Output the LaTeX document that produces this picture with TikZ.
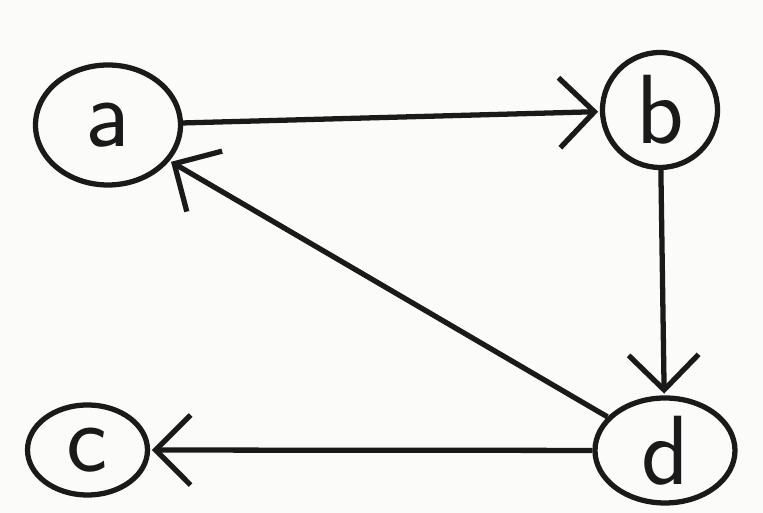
\documentclass[tikz,border=0pt]{standalone}
\usetikzlibrary{shapes.geometric,arrows.meta,positioning}
\usepackage{xcolor}
\definecolor{ink}{HTML}{1A1A1A}
\definecolor{paper}{HTML}{FBFBF9}
\tikzset{
  vtx/.style={ellipse,draw=ink,line width=3pt,inner sep=0pt,
              minimum width=#1,minimum height=2.3cm,
              font=\sffamily\fontsize{56}{56}\selectfont,text=ink},
  sarr/.style={-{Straight Barb[length=7mm,width=14mm,line width=3pt]},
               line width=3pt,color=ink,shorten >=1pt},
}
\begin{document}
\begin{tikzpicture}

  %% ── canvas ───────────────────────────────────────────────────────────────
  \fill[paper] (0,0) rectangle (15.26,10.26);
  \useasboundingbox (0,0) rectangle (15.26,10.26);

  %% ── vertices ─────────────────────────────────────────────────────────────
  \node[vtx=2.9cm,minimum height=2.4cm] (a) at (2.16,7.76) {a};
  \node[vtx=2.3cm,minimum height=2.3cm] (b) at (13.2,8.06) {b};
  \node[vtx=2.4cm,minimum height=1.8cm] (c) at (1.75,1.26) {c};
  \node[vtx=2.8cm,minimum height=2.1cm] (d) at (13.3,1.25) {d};

  %% ── edges ────────────────────────────────────────────────────────────────
  \draw[sarr] (a) -- (b);
  \draw[sarr] (b) -- (d);
  \draw[sarr] (d) -- (a);
  \draw[sarr] (d) -- (c);

\end{tikzpicture}
\end{document}
